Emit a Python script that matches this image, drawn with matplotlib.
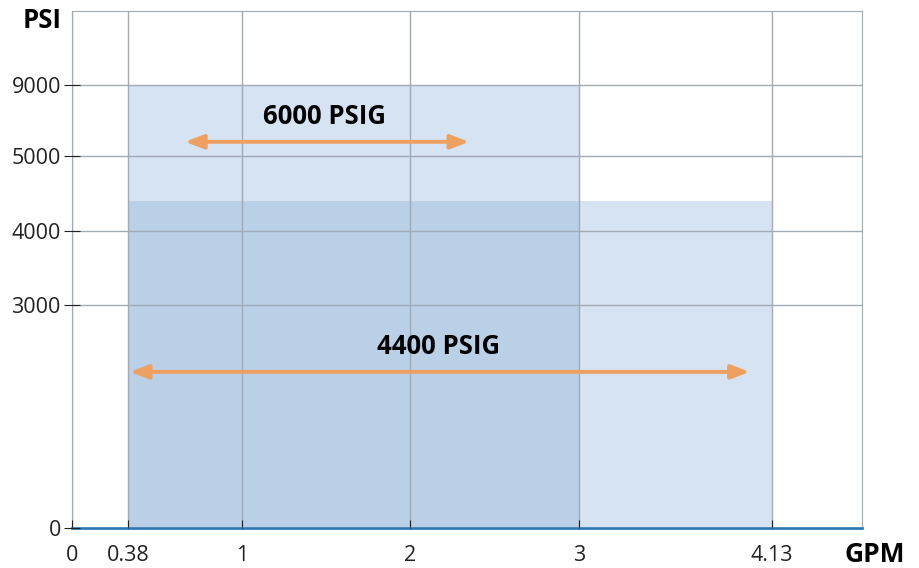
import numpy as np
import matplotlib
matplotlib.use('Agg')
import matplotlib.pyplot as plt

# data
gpm_ticks = [0, 0.38, 1, 2, 3, 4.13]
psi_ticks = [0, 3000, 4000, 5000, 9000]

band_labels = ['6000 PSIG', '4400 PSIG']
band_gpm_min = [0.38, 0.38]
band_gpm_max = [3, 4.13]
band_psi_max = [9000, 4400]

arrow_gpm_from = [0.69, 0.39]
arrow_gpm_to = [2.35, 4.0]
arrow_psi = [5800, 2100]
label_gpm = [1.49, 2.17]
label_psi = [7200, 2440]

# uneven axis spacing (tick value -> position along the axis)
x_break = [0, 0.38, 1, 2, 3, 4.13, 4.66]
x_pos = [0, 56, 170, 338, 507, 700, 790]
y_break = [0, 3000, 4000, 5000, 9000, 10000]
y_pos = [0, 223, 297, 372, 443, 517.5]


def fx(v):
    return np.interp(v, x_break, x_pos)


def fx_inv(p):
    return np.interp(p, x_pos, x_break)


def fy(v):
    return np.interp(v, y_break, y_pos)


def fy_inv(p):
    return np.interp(p, y_pos, y_break)


plt.rcParams['font.family'] = ['Open Sans', 'DejaVu Sans']

fig = plt.figure(figsize=(9.2, 5.68), dpi=100)
ax = fig.add_axes([72 / 920, 40 / 568, 790 / 920, 517.5 / 568])
ax.set_xscale('function', functions=(fx, fx_inv))
ax.set_yscale('function', functions=(fy, fy_inv))
ax.set_xlim(0, 4.66)
ax.set_ylim(0, 10000)

light = '#d6e3f3'
dark = '#b9d0e7'
# 4400 band full, 6000 band, overlap darker
ax.fill_between([band_gpm_min[1], band_gpm_max[1]], 0, band_psi_max[1], color=light, lw=0, zorder=1)
ax.fill_between([band_gpm_min[0], band_gpm_max[0]], 0, band_psi_max[0], color=light, lw=0, zorder=1)
ax.fill_between([max(band_gpm_min), min(band_gpm_max)], 0, min(band_psi_max), color=dark, lw=0, zorder=1)

ax.set_xticks(gpm_ticks)
ax.set_xticklabels(['0', '0.38', '1', '2', '3', '4.13'])
ax.set_yticks(psi_ticks)
ax.set_yticklabels([str(v) for v in psi_ticks])
ax.grid(True, color='#a2aab4', lw=1, zorder=2)
ax.set_axisbelow(False)
ax.tick_params(axis='x', direction='in', length=6, color='#222222', labelcolor='#222222',
               labelsize=15.5, pad=12)
ax.tick_params(axis='y', direction='inout', length=12, color='#222222', labelcolor='#222222',
               labelsize=15.5, pad=2)

for s in ['top', 'right']:
    ax.spines[s].set_color('#a2aab4')
ax.spines['left'].set_color('#2a7ab8')
ax.spines['bottom'].set_color('#2a7ab8')
ax.spines['bottom'].set_linewidth(2)

for i in range(len(band_labels)):
    ax.annotate('', xy=(arrow_gpm_to[i], arrow_psi[i]), xytext=(arrow_gpm_from[i], arrow_psi[i]),
                arrowprops=dict(arrowstyle='<|-|>,head_length=1.1,head_width=0.42',
                                color='#eda060', lw=2.8, shrinkA=0, shrinkB=0), zorder=4)
    ax.text(label_gpm[i], label_psi[i], band_labels[i], fontsize=18.5, fontweight='bold',
            ha='center', va='center', zorder=5)

fig.text(62 / 920, 547 / 568, 'PSI', fontsize=18.5, fontweight='bold', ha='right', va='center')
fig.text(905 / 920, 14 / 568, 'GPM', fontsize=19, fontweight='bold', ha='right', va='center')

fig.savefig('out.png', dpi=100)
